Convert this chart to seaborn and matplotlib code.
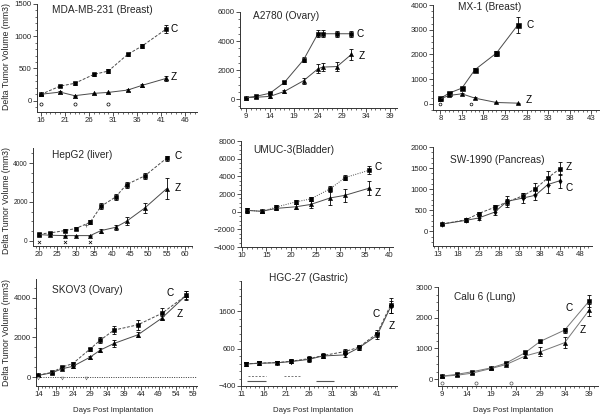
import numpy as np
import pandas as pd
import matplotlib
matplotlib.use("Agg")
import matplotlib.pyplot as plt
from matplotlib.ticker import MultipleLocator, AutoMinorLocator
import seaborn as sns

# ---------------- data ----------------
p1_days = [16, 20, 23, 27, 30, 34, 37, 42]
p1_c = [98, 227, 269, 408, 460, 718, 848, 1111]
p1_c_err = [10, 20, 20, 25, 25, 25, 35, 60]
p1_z = [100, 134, 78, 114, 129, 165, 238, 346]
p1_z_err = [10, 15, 10, 10, 10, 15, 20, 35]
p1_dose_days = [16, 23, 30]

p2_days = [9, 11, 14, 17, 21, 24, 25, 28, 31]
p2_c = [100, 180, 400, 1140, 2700, 4500, 4500, 4500, 4500]
p2_c_err = [40, 50, 80, 100, 180, 250, 250, 200, 200]
p2_z = [100, 120, 180, 520, 1260, 2080, 2200, 2240, 3080]
p2_z_err = [40, 40, 120, 120, 200, 320, 300, 300, 400]

p3_days = [8, 10, 13, 16, 21, 26]
p3_c = [216, 432, 635, 1378, 2054, 3203]
p3_c_err = [30, 60, 60, 80, 100, 320]
p3_z = [200, 338, 405, 230, 54, 27]
p3_z_err = [20, 40, 40, 30, 20, 15]
p3_dose_days = [8, 15]

p4_days = [20, 23, 27, 30, 34, 37, 41, 44, 49, 55]
p4_c = [340, 395, 515, 620, 945, 1770, 2250, 2890, 3340, 4250]
p4_c_err = [60, 60, 70, 80, 100, 150, 180, 150, 150, 120]
p4_z = [310, 275, 257, 257, 257, 515, 686, 995, 1680, 2675]
p4_z_err = [50, 40, 40, 40, 40, 100, 120, 200, 250, 550]
p4_dose_days = [20, 27, 34]
p4_sig_days = [33]
p4_sig_vals = [790]

p5_days = [11, 14, 17, 21, 24, 28, 31, 36]
p5_c = [150, 40, 520, 1110, 1440, 2590, 3850, 4700]
p5_c_err = [250, 150, 200, 250, 200, 350, 300, 450]
p5_z = [150, 40, 370, 555, 815, 1555, 1850, 2670]
p5_z_err = [250, 150, 200, 300, 400, 750, 750, 800]

p6_days = [14, 20, 23, 27, 30, 34, 37, 40, 43]
p6_z = [170, 275, 420, 570, 695, 845, 1010, 1265, 1485]
p6_z_err = [20, 30, 40, 50, 80, 60, 130, 160, 160]
p6_c = [170, 260, 315, 455, 710, 790, 855, 1107, 1200]
p6_c_err = [20, 30, 50, 60, 130, 120, 120, 190, 165]

p7_days = [14, 18, 21, 24, 29, 32, 36, 43, 50, 57]
p7_c = [100, 240, 510, 680, 1410, 1860, 2370, 2640, 3220, 4120]
p7_c_err = [40, 50, 60, 60, 80, 150, 220, 250, 270, 230]
p7_z = [85, 220, 425, 540, 1000, 1360, 1695, 2135, 2980, 4120]
p7_z_err = [40, 40, 50, 60, 70, 100, 180, 120, 100, 200]
p7_dose_days = [14, 21, 28]

p8_days = [12, 15, 19, 22, 26, 29, 34, 37, 41, 44]
p8_c = [190, 210, 225, 260, 330, 410, 520, 635, 1000, 1760]
p8_c_err = [50, 50, 50, 50, 60, 60, 60, 70, 100, 200]
p8_z = [185, 205, 220, 250, 310, 400, 430, 620, 950, 1710]
p8_z_err = [40, 40, 40, 40, 60, 60, 50, 60, 100, 150]
p8_dashed_start = [12.5, 20.5]
p8_dashed_end = [16.5, 24.0]
p8_solid_start = [12.3, 27.5]
p8_solid_end = [16.5, 31.5]

p9_days = [9, 12, 15, 19, 22, 26, 29, 34, 39]
p9_c = [100, 160, 240, 370, 520, 870, 1230, 1600, 2545]
p9_c_err = [30, 40, 40, 40, 50, 60, 60, 80, 200]
p9_z = [95, 130, 195, 350, 475, 760, 890, 1190, 2250]
p9_z_err = [30, 30, 30, 30, 40, 60, 150, 180, 200]
p9_dose_days = [9, 16, 23]

titles = ["MDA-MB-231 (Breast)", "A2780 (Ovary)", "MX-1 (Breast)",
          "HepG2 (liver)", "UMUC-3(Bladder)", "SW-1990 (Pancreas)",
          "SKOV3 (Ovary)", "HGC-27 (Gastric)", "Calu 6 (Lung)"]

p1_xticks = [16, 21, 26, 31, 36, 41, 46]
p2_xticks = [9, 14, 19, 24, 29, 34, 39]
p3_xticks = [8, 13, 18, 23, 28, 33, 38, 43]
p4_xticks = [20, 25, 30, 35, 40, 45, 50, 55, 60]
p5_xticks = [10, 15, 20, 25, 30, 35, 40]
p6_xticks = [13, 18, 23, 28, 33, 38, 43, 48]
p7_xticks = [14, 19, 24, 29, 34, 39, 44, 49, 54, 59]
p8_xticks = [11, 16, 21, 26, 31, 36, 41]
p9_xticks = [9, 14, 19, 24, 29, 34, 39]

p1_yticks = [0, 500, 1000, 1500]
p2_yticks = [0, 2000, 4000, 6000]
p3_yticks = [0, 1000, 2000, 3000, 4000]
p4_yticks = [0, 2000, 4000]
p5_yticks = [-4000, -2000, 0, 2000, 4000, 6000, 8000]
p6_yticks = [0, 500, 1000, 1500, 2000]
p7_yticks = [0, 2000, 4000]
p8_yticks = [-400, 600, 1600]
p9_yticks = [0, 1000, 2000, 3000]

# ---------------- style ----------------
sns.set_style("ticks")
plt.rcParams['font.family'] = ['Liberation Sans', 'DejaVu Sans']
plt.rcParams['axes.linewidth'] = 0.7

W, H = 600, 416
fig = plt.figure(figsize=(6, 4.16), dpi=100)

DASH = (0, (3, 1.6))
DOT = (0, (1, 1.4))
LC = '#4a4a4a'


def add_ax(l, r, t, b):
    return fig.add_axes([l / W, 1 - b / H, (r - l) / W, (b - t) / H])


def series(ax, days, vals, errs, marker, ls, ms, color=LC):
    df = pd.DataFrame({'day': days, 'vol': vals})
    sns.lineplot(data=df, x='day', y='vol', ax=ax, color=color, linestyle=ls,
                 lw=0.7, marker=marker, markersize=ms, markerfacecolor='black',
                 markeredgecolor='black', markeredgewidth=0.4, zorder=3)
    ax.errorbar(days, vals, yerr=errs, fmt='none', ecolor='black',
                elinewidth=0.6, capsize=1.6, capthick=0.6, zorder=2)


def label(ax, days, vals, text, dx, dy):
    # dx, dy in pixels (dy positive = up)
    ax.annotate(text, (days[-1], vals[-1]), xytext=(dx * 0.72, dy * 0.72),
                textcoords='offset points', ha='center', va='center',
                fontsize=7.2, color='black', annotation_clip=False)


def style_axis(ax, xlim, ylim, xt, yt, ymin_div=4, ylabsize=5.6):
    ax.set_xlim(*xlim)
    ax.set_ylim(*ylim)
    ax.set_xticks(xt)
    ax.set_yticks(yt)
    ax.xaxis.set_minor_locator(MultipleLocator(1))
    ax.yaxis.set_minor_locator(AutoMinorLocator(ymin_div))
    ax.tick_params(which='major', length=2.6, width=0.6, labelsize=5.6, pad=1.2, color='#333')
    ax.tick_params(axis='y', which='major', labelsize=ylabsize)
    ax.tick_params(which='minor', length=1.3, width=0.5, color='#333')
    ax.set_xlabel('')
    ax.set_ylabel('')
    sns.despine(ax=ax)
    for s in ('left', 'bottom'):
        ax.spines[s].set_color('#333')


def title(text, x, y):
    fig.text(x / W, 1 - y / H, text, ha='left', va='center', fontsize=7.3)


# ---- Panel 1 ----
ax = add_ax(37, 197, 4, 112)
series(ax, p1_days, p1_c, p1_c_err, 's', DASH, 3.4)
series(ax, p1_days, p1_z, p1_z_err, '^', '-', 3.2)
ax.scatter(p1_dose_days, [-57] * len(p1_dose_days), s=5, facecolor='white', edgecolor='black', linewidth=0.5, zorder=4)
label(ax, p1_days, p1_c, 'C', 8, 0)
label(ax, p1_days, p1_z, 'Z', 8, 1)
style_axis(ax, (15.2, 48.4), (-175, 1500), p1_xticks, p1_yticks, 5)
title(titles[0], 52, 10)

# ---- Panel 2 ----
ax = add_ax(240, 397, 12, 108)
series(ax, p2_days, p2_c, p2_c_err, 's', '-', 3.2)
series(ax, p2_days, p2_z, p2_z_err, '^', '-', 3.0)
label(ax, p2_days, p2_c, 'C', 9, 0)
label(ax, p2_days, p2_z, 'Z', 10, -2)
style_axis(ax, (7.75, 40.5), (-620, 6000), p2_xticks, p2_yticks, 4)
title(titles[1], 253, 16)

# ---- Panel 3 ----
ax = add_ax(433, 600, 5, 110)
series(ax, p3_days, p3_c, p3_c_err, 's', '-', 3.6)
series(ax, p3_days, p3_z, p3_z_err, '^', '-', 3.0)
ax.scatter(p3_dose_days, [-25] * len(p3_dose_days), s=4, facecolor='white', edgecolor='black', linewidth=0.5, zorder=4)
label(ax, p3_days, p3_c, 'C', 12, 0)
label(ax, p3_days, p3_z, 'Z', 11, 3)
style_axis(ax, (6.3, 45), (-250, 4000), p3_xticks, p3_yticks, 4)
title(titles[2], 458, 7)

# ---- Panel 4 ----
ax = add_ax(33, 192, 148, 246)
series(ax, p4_days, p4_c, p4_c_err, 's', DASH, 3.4)
series(ax, p4_days, p4_z, p4_z_err, '^', '-', 3.0)
ax.scatter(p4_dose_days, [-90] * len(p4_dose_days), s=5, marker='x', color='black', linewidth=0.5, zorder=4)
ax.scatter(p4_sig_days, p4_sig_vals, s=6, marker='+', color='#555', linewidth=0.5, zorder=4)
label(ax, p4_days, p4_c, 'C', 12, 2)
label(ax, p4_days, p4_z, 'Z', 11, 1)
style_axis(ax, (18.3, 62), (-280, 4780), p4_xticks, p4_yticks, 4, ylabsize=4.8)
title(titles[3], 52, 155)

# ---- Panel 5 ----
ax = add_ax(241, 393, 141, 247)
series(ax, p5_days, p5_c, p5_c_err, 's', DOT, 3.2)
series(ax, p5_days, p5_z, p5_z_err, '^', '-', 3.0)
label(ax, p5_days, p5_c, 'C', 9, 3)
label(ax, p5_days, p5_z, 'Z', 8, -5)
style_axis(ax, (9.8, 40.8), (-4000, 8000), p5_xticks, p5_yticks, 4)
title(titles[4], 253, 150)

# ---- Panel 6 ----
ax = add_ax(433, 592, 147, 246)
series(ax, p6_days, p6_z, p6_z_err, 's', DASH, 3.2)
series(ax, p6_days, p6_c, p6_c_err, 'd', '-', 2.8)
label(ax, p6_days, p6_z, 'Z', 9, 2)
label(ax, p6_days, p6_c, 'C', 9, -7)
style_axis(ax, (11.8, 50.9), (-350, 2000), p6_xticks, p6_yticks, 4)
title(titles[5], 450, 160)

# ---- Panel 7 ----
ax = add_ax(36, 197, 279, 386)
ax.axhline(0, color='#333', lw=0.7, ls=DOT, zorder=1)
series(ax, p7_days, p7_c, p7_c_err, 's', DASH, 3.2)
series(ax, p7_days, p7_z, p7_z_err, '^', '-', 3.0)
ax.scatter(p7_dose_days, [-40] * len(p7_dose_days), s=4, marker='v', facecolor='white', edgecolor='#555', linewidth=0.4, zorder=4)
label(ax, p7_days, p7_c, 'C', -16, 2)
label(ax, p7_days, p7_z, 'Z', -6, -19)
style_axis(ax, (13.3, 60.2), (-450, 4950), p7_xticks, p7_yticks, 4)
title(titles[6], 52, 290)

# ---- Panel 8 ----
ax = add_ax(241, 397, 281, 386)
series(ax, p8_days, p8_c, p8_c_err, 's', DASH, 3.2)
series(ax, p8_days, p8_z, p8_z_err, 'v', '-', 3.2)
ax.hlines([-130] * len(p8_dashed_start), p8_dashed_start, p8_dashed_end, colors='#777', lw=0.7, linestyles=[(0, (2, 1.6))])
ax.hlines([-270] * len(p8_solid_start), p8_solid_start, p8_solid_end, colors='#555', lw=0.8)
label(ax, p8_days, p8_c, 'C', -15, -9)
label(ax, p8_days, p8_z, 'Z', 1, -19)
style_axis(ax, (11, 45.4), (-400, 2400), p8_xticks, p8_yticks, 5)
title(titles[7], 269, 278)

# ---- Panel 9 ----
ax = add_ax(438, 598, 287, 386)
series(ax, p9_days, p9_c, p9_c_err, 's', '-', 3.2, color='#777')
series(ax, p9_days, p9_z, p9_z_err, '^', '-', 3.0, color='#777')
ax.scatter(p9_dose_days, [-110] * len(p9_dose_days), s=5, facecolor='white', edgecolor='#555', linewidth=0.5, zorder=4)
label(ax, p9_days, p9_c, 'C', -20, -7)
label(ax, p9_days, p9_z, 'Z', -6, -20)
style_axis(ax, (8.15, 40.8), (-220, 3000), p9_xticks, p9_yticks, 4)
title(titles[8], 454, 297)

# ---- axis labels ----
for yc in (56, 200, 333):
    fig.text(7 / W, 1 - yc / H, "Delta Tumor Volume (mm3)", rotation=90,
             ha='center', va='center', fontsize=6.3)
for xc in (113, 313, 513):
    fig.text(xc / W, 1 - 410 / H, "Days Post Implantation",
             ha='center', va='center', fontsize=5.6)

fig.savefig("out.png", dpi=100)
